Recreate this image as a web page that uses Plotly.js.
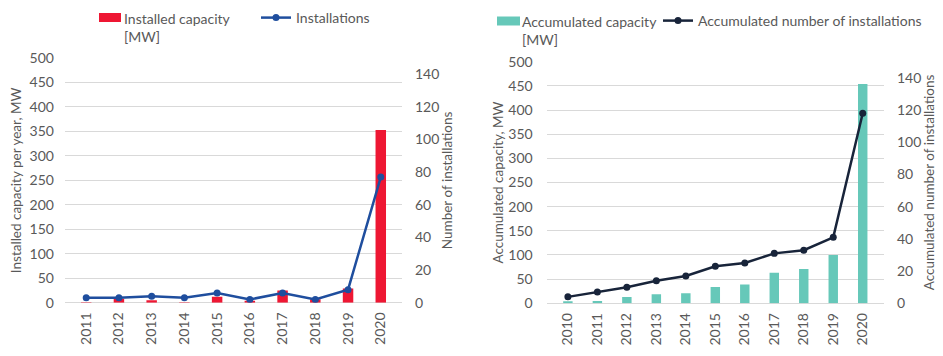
<!DOCTYPE html>
<html>
<head>
<meta charset="utf-8">
<script src="https://cdn.plot.ly/plotly-3.0.1.min.js"></script>
<style>html,body{margin:0;padding:0;background:#fff}#chart{width:943px;height:356px}</style>
</head>
<body>
<div id="chart"></div>
<script>
// Left chart: per-year values
const yearsAnnual = ['2011','2012','2013','2014','2015','2016','2017','2018','2019','2020'];
const installedCapacityMW = [1, 8, 5, 1, 12, 4, 25, 7, 29, 353];
const installations = [3, 3, 4, 3, 6, 2, 6, 2, 8, 77];

// Right chart: accumulated values
const yearsAccum = ['2010','2011','2012','2013','2014','2015','2016','2017','2018','2019','2020'];
const accumulatedCapacityMW = [4, 5, 13, 19, 21, 34, 39, 63, 71, 100, 454];
const accumulatedInstallations = [4, 7, 10, 14, 17, 23, 25, 31, 33, 41, 118];

const FONT = 'Lato, "Open Sans", sans-serif';
const GREY = '#595959';
const GRID = '#d9d9d9';
const RED = '#ee1733';
const TEAL = '#66c8b9';

const traces = [
  {type:'bar', x: yearsAnnual, y: installedCapacityMW, xaxis:'x', yaxis:'y',
   name:'Installed capacity [MW]', marker:{color: RED}, showlegend:false},
  {type:'scatter', mode:'lines+markers', x: yearsAnnual, y: installations, xaxis:'x', yaxis:'y2',
   name:'Installations', line:{color:'#1f4e9e', width:2.5}, marker:{color:'#1f4e9e', size:7}, legend:'legend'},
  {type:'bar', x: yearsAccum, y: accumulatedCapacityMW, xaxis:'x2', yaxis:'y3',
   name:'Accumulated capacity [MW]', marker:{color: TEAL}, showlegend:false},
  {type:'scatter', mode:'lines+markers', x: yearsAccum, y: accumulatedInstallations, xaxis:'x2', yaxis:'y4',
   name:'Accumulated number of installations', line:{color:'#18243a', width:2.5}, marker:{color:'#18243a', size:7}, legend:'legend2'}
];

const tickFont = {family: FONT, size: 14, color: GREY};
const titleFont = {family: FONT, size: 13.5, color: GREY};

function xAx(domain, anchor){
  return {domain: domain, anchor: anchor, type:'category', tickangle:-90, tickfont: tickFont,
    showgrid:false, showline:false, zeroline:false, ticks:'', ticklabelstandoff:6, fixedrange:true};
}
function legendAt(x, y){
  return {x: x, y: y, xanchor:'left', yanchor:'top', orientation:'h', bgcolor:'rgba(0,0,0,0)',
    font:{family: FONT, size: 14, color: GREY}, valign:'top', itemwidth:30, tracegroupgap:0};
}
function px(x){ return x/943; }
function py(y){ return 1 - y/356; }

const layout = {
  width: 943, height: 356,
  margin:{l:0, r:0, t:0, b:0},
  paper_bgcolor:'#fff', plot_bgcolor:'#fff',
  font:{family: FONT, color: GREY},
  bargap: 0.68,
  xaxis: xAx([0.0689, 0.4263], 'y'),
  xaxis2: xAx([0.5797, 0.9374], 'y3'),
  yaxis: {domain:[0.1497, 0.8371], anchor:'x', range:[0, 500], dtick:50, tickfont: tickFont,
    gridcolor: GRID, gridwidth:1, zeroline:true, zerolinecolor: GRID, zerolinewidth:1, showline:false, ticks:'',
    ticklabelstandoff:10,
    title:{text:'Installed capacity per year, MW', font: titleFont, standoff:4}},
  yaxis2: {overlaying:'y', anchor:'x', side:'right', range:[0, 150], tickvals:[0,20,40,60,80,100,120,140],
    tickfont: tickFont, showgrid:false, zeroline:false, showline:false, ticks:'', ticklabelstandoff:12,
    title:{text:'Number of installations', font: titleFont, standoff:4}},
  yaxis3: {domain:[0.148, 0.8267], anchor:'x2', range:[0, 500], dtick:50, tickfont: tickFont,
    gridcolor: GRID, gridwidth:1, zeroline:true, zerolinecolor: GRID, zerolinewidth:1, showline:false, ticks:'',
    ticklabelstandoff:13,
    title:{text:'Accumulated capacity, MW', font: titleFont, standoff:1}},
  yaxis4: {overlaying:'y3', anchor:'x2', side:'right', range:[0, 150], tickvals:[0,20,40,60,80,100,120,140],
    tickfont: tickFont, showgrid:false, zeroline:false, showline:false, ticks:'', ticklabelstandoff:12,
    title:{text:'Accumulated number of installations', font: titleFont, standoff:4}},
  legend: legendAt(px(256), py(2)),
  legend2: legendAt(px(658), py(5)),
  shapes: [
    {type:'rect', xref:'paper', yref:'paper', x0:px(99), x1:px(121), y0:py(22), y1:py(13),
     fillcolor: RED, line:{width:0}},
    {type:'rect', xref:'paper', yref:'paper', x0:px(497), x1:px(520), y0:py(25.5), y1:py(16.5),
     fillcolor: TEAL, line:{width:0}}
  ],
  annotations: [
    {xref:'paper', yref:'paper', x:px(122), y:py(8), xanchor:'left', yanchor:'top', align:'left',
     showarrow:false, text:'Installed capacity<br>[MW]', font:{family: FONT, size:14, color: GREY}},
    {xref:'paper', yref:'paper', x:px(520), y:py(11), xanchor:'left', yanchor:'top', align:'left',
     showarrow:false, text:'Accumulated capacity<br>[MW]', font:{family: FONT, size:14, color: GREY}}
  ],
  showlegend: true
};

Plotly.newPlot('chart', traces, layout, {displayModeBar:false, staticPlot:true});
</script>
</body>
</html>
